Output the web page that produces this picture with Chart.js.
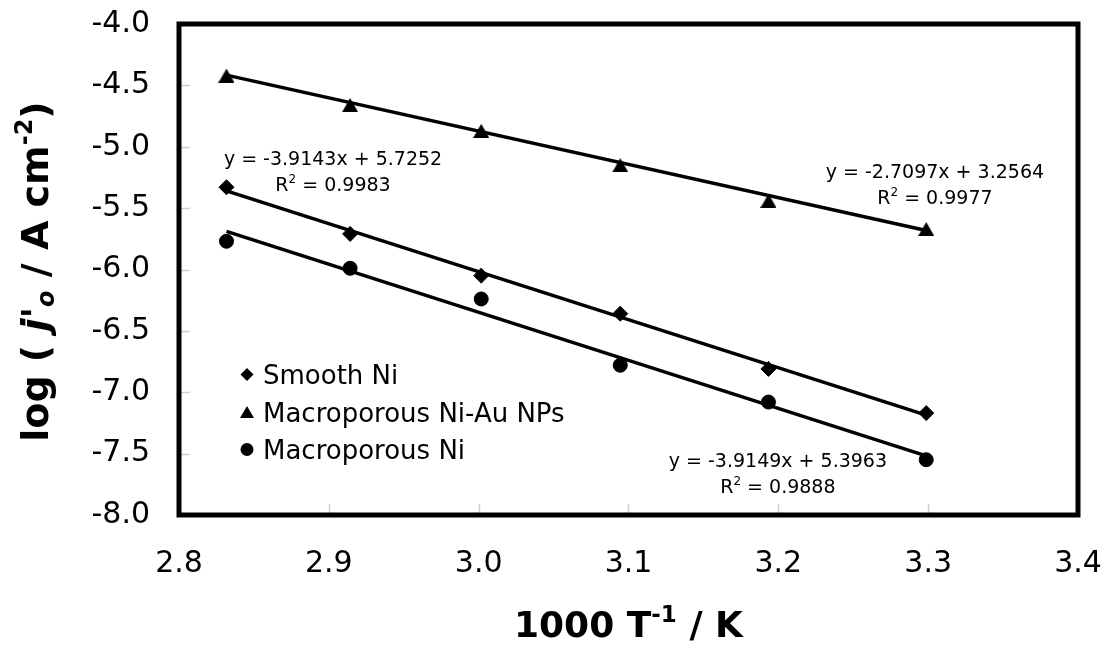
<!DOCTYPE html>
<html>
<head>
<meta charset="utf-8">
<script src="https://cdn.jsdelivr.net/npm/chart.js@4.4.1/dist/chart.umd.min.js"></script>
<style>
  html, body { margin: 0; padding: 0; background: #fff; }
  #wrap { width: 1110px; height: 646px; position: relative; }
</style>
</head>
<body>
<div id="wrap"><canvas id="myChart"></canvas></div>
<script>
// 1000/T (K^-1), 80 ~ 30 °C
const invT = [2.8317, 2.9142, 3.0017, 3.0945, 3.1934, 3.2987];

// log(j'o) 값
const smoothNi = [-5.33, -5.71, -6.05, -6.36, -6.81, -7.17];
const niAuNPs  = [-4.42, -4.66, -4.87, -5.15, -5.44, -5.67];
const macroNi  = [-5.77, -5.99, -6.24, -6.78, -7.08, -7.55];

const seriesNames = ['Smooth Ni', 'Macroporous Ni-Au NPs', 'Macroporous Ni'];

// 추세선 (Excel 값)
const slopes     = [-3.9143, -2.7097, -3.9149];
const intercepts = [5.7252, 3.2564, 5.3963];
const r2Values   = ['0.9983', '0.9977', '0.9888'];
// 식 라벨 위치 (데이터 좌표, 첫 줄 중심)
const eqAnchors = [[2.9028, -5.089], [3.3045, -5.2006], [3.1997, -7.552]];

const FONT = '"DejaVu Sans", Verdana, sans-serif';

// 삼각형 마커 (중심 기준)
function triImg(w, h) {
    const c = document.createElement('canvas');
    c.width = w; c.height = h;
    const g = c.getContext('2d');
    g.fillStyle = '#000';
    g.beginPath();
    g.moveTo(w / 2, 0); g.lineTo(w, h); g.lineTo(0, h);
    g.closePath(); g.fill();
    return c;
}
const triangle = triImg(16, 14);

function toPts(ys) { return ys.map((y, i) => ({ x: invT[i], y: y })); }
function trend(k) {
    const x0 = invT[0], x1 = invT[invT.length - 1];
    return [{ x: x0, y: slopes[k] * x0 + intercepts[k] }, { x: x1, y: slopes[k] * x1 + intercepts[k] }];
}

const markerSets = [
    { label: seriesNames[0], data: toPts(smoothNi), pointStyle: 'rectRot', pointRadius: 7.5 },
    { label: seriesNames[1], data: toPts(niAuNPs), pointStyle: triangle, pointRadius: 8 },
    { label: seriesNames[2], data: toPts(macroNi), pointStyle: 'circle', pointRadius: 7 }
].map(d => Object.assign(d, {
    showLine: false, backgroundColor: '#000', borderColor: '#000', borderWidth: 1, order: 1
}));

const trendSets = [0, 1, 2].map(k => ({
    label: 'trend' + k, data: trend(k), showLine: true, pointRadius: 0,
    borderColor: '#000', borderWidth: 3.5, order: 2
}));

function drawRich(ctx, parts, x, y, align) {
    let total = 0;
    parts.forEach(p => { ctx.font = p.f; p.w = ctx.measureText(p.t).width; total += p.w; });
    let cx = align === 'center' ? x - total / 2 : x;
    ctx.textAlign = 'left';
    ctx.textBaseline = 'alphabetic';
    parts.forEach(p => { ctx.font = p.f; ctx.fillText(p.t, cx, y + (p.dy || 0)); cx += p.w; });
}

function legendMarker(ctx, style, x, y) {
    ctx.fillStyle = '#000';
    ctx.beginPath();
    if (style === 'rectRot') {
        ctx.moveTo(x, y - 6.5); ctx.lineTo(x + 6.5, y); ctx.lineTo(x, y + 6.5); ctx.lineTo(x - 6.5, y);
        ctx.closePath(); ctx.fill();
    } else if (style === 'circle') {
        ctx.arc(x, y, 6.5, 0, Math.PI * 2); ctx.fill();
    } else {
        ctx.drawImage(triImg(14, 12), x - 7, y - 6);
    }
}

const decor = {
    id: 'decor',
    beforeDatasetsDraw(chart) {
        const { ctx, chartArea: a, scales } = chart;
        ctx.save();
        ctx.strokeStyle = '#cfcfcf';
        ctx.lineWidth = 1.5;
        scales.y.ticks.forEach(t => {
            const py = Math.round(scales.y.getPixelForValue(t.value)) + 0.5;
            ctx.beginPath(); ctx.moveTo(a.left, py); ctx.lineTo(a.left + 11, py); ctx.stroke();
        });
        scales.x.ticks.forEach(t => {
            const px = Math.round(scales.x.getPixelForValue(t.value)) + 0.5;
            ctx.beginPath(); ctx.moveTo(px, a.bottom); ctx.lineTo(px, a.bottom - 11); ctx.stroke();
        });
        ctx.restore();
    },
    afterDatasetsDraw(chart) {
        const { ctx, chartArea: a, scales } = chart;
        ctx.save();
        // 테두리
        ctx.strokeStyle = '#000';
        ctx.lineWidth = 5;
        ctx.lineJoin = 'miter';
        ctx.strokeRect(a.left, a.top, a.right - a.left, a.bottom - a.top);

        ctx.fillStyle = '#000';
        // 추세선 식
        const fs = 19;
        eqAnchors.forEach((p, k) => {
            const cx = scales.x.getPixelForValue(p[0]);
            const cy = scales.y.getPixelForValue(p[1]);
            const sign = intercepts[k] >= 0 ? ' + ' : ' - ';
            drawRich(ctx, [{ t: 'y = ' + slopes[k].toFixed(4) + 'x' + sign + Math.abs(intercepts[k]).toFixed(4), f: fs + 'px ' + FONT }],
                cx, cy + 0.36 * fs, 'center');
            drawRich(ctx, [
                { t: 'R', f: fs + 'px ' + FONT },
                { t: '2', f: '12px ' + FONT, dy: -8 },
                { t: ' = ' + r2Values[k], f: fs + 'px ' + FONT }
            ], cx, cy + 26 + 0.36 * fs, 'center');
        });

        // 범례
        const styles = ['rectRot', 'triangle', 'circle'];
        seriesNames.forEach((n, i) => {
            const ly = a.top + 350.5 + i * 37.5;
            legendMarker(ctx, styles[i], a.left + 68, ly);
            ctx.fillStyle = '#000';
            drawRich(ctx, [{ t: n, f: '26px ' + FONT }], a.left + 84, ly + 9.5, 'left');
        });

        // 축 제목
        const bold = 'bold 36px ' + FONT;
        const boldS = 'bold 23px ' + FONT;
        drawRich(ctx, [
            { t: '1000 T', f: bold },
            { t: '-1', f: boldS, dy: -15 },
            { t: ' / K', f: bold }
        ], (a.left + a.right) / 2, 637, 'center');

        const boldY = 'bold 38px ' + FONT;
        const boldYS = 'bold 24px ' + FONT;
        ctx.translate(48, (a.top + a.bottom) / 2 + 2);
        ctx.rotate(-Math.PI / 2);
        drawRich(ctx, [
            { t: 'log ( ', f: boldY },
            { t: "j'", f: 'italic ' + boldY },
            { t: 'o', f: 'italic ' + boldYS, dy: 6 },
            { t: ' / A cm', f: boldY },
            { t: '-2', f: boldYS, dy: -16 },
            { t: ')', f: boldY }
        ], 0, 0, 'center');
        ctx.restore();
    }
};

const ctx_chart = document.getElementById('myChart').getContext('2d');
const myChart = new Chart(ctx_chart, {
    type: 'scatter',
    data: { datasets: markerSets.concat(trendSets) },
    options: {
        responsive: true,
        maintainAspectRatio: false,
        animation: false,
        layout: { padding: { top: 24, right: 32, left: 0, bottom: 0 } },
        plugins: { legend: { display: false }, tooltip: { enabled: false } },
        scales: {
            x: {
                type: 'linear', min: 2.8, max: 3.4,
                grid: { display: false, drawTicks: false },
                border: { display: false },
                ticks: {
                    stepSize: 0.1, padding: 31, color: '#000', maxRotation: 0,
                    font: { family: FONT, size: 30 },
                    callback: v => Number(v).toFixed(1)
                },
                afterFit: s => { s.height = 131; s.paddingLeft = 0; s.paddingRight = 0; }
            },
            y: {
                type: 'linear', min: -8, max: -4,
                grid: { display: false, drawTicks: false },
                border: { display: false },
                ticks: {
                    stepSize: 0.5, padding: 29, color: '#000',
                    font: { family: FONT, size: 30 },
                    callback: v => Number(v).toFixed(1)
                },
                afterFit: s => { s.width = 179; s.paddingTop = 0; s.paddingBottom = 0; }
            }
        }
    },
    plugins: [decor]
});
</script>
</body>
</html>
